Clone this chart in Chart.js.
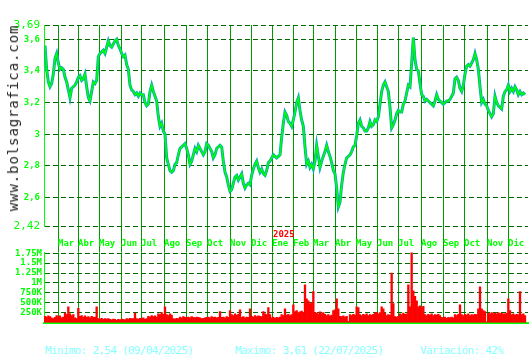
<!DOCTYPE html>
<html><head><meta charset="utf-8">
<script src="https://cdn.jsdelivr.net/npm/chart.js@4"></script>
<style>
html,body{margin:0;padding:0;background:#fff;width:530px;height:360px;overflow:hidden}
#wrap{position:relative;width:530px;height:360px}
#c1{position:absolute;left:0;top:0}
#c2{position:absolute;left:0;top:245px}
.brand{position:absolute;left:13px;top:118px;transform:translate(-50%,-50%) rotate(-90deg);white-space:nowrap;font-family:'DejaVu Sans Mono',monospace;font-size:14px;letter-spacing:0.9px;color:#222;line-height:14px}
.yr{position:absolute;left:273px;top:230px;font-family:'DejaVu Sans Mono',monospace;font-size:9px;font-weight:bold;line-height:9px;color:#ff0000}
.stat{position:absolute;top:345px;font-family:'DejaVu Sans Mono',monospace;font-size:11px;letter-spacing:-0.7px;line-height:12px;color:#88ffff;white-space:nowrap}
</style></head>
<body><div id="wrap">
<canvas id="c1" width="530" height="252"></canvas>
<canvas id="c2" width="530" height="85"></canvas>
<div class="brand">www.bolsagrafica.com</div>
<div class="yr">2025</div>
<div class="stat" style="left:45px">Minimo: 2,54 (09/04/2025)</div>
<div class="stat" style="left:235px">Maximo: 3,61 (22/07/2025)</div>
<div class="stat" style="left:420px">Variación: 42%</div>
</div>
<script>
// closing prices, one sample every 5/3 trading days (Feb 2024 -> Dec 2025)
const closes = [
3.56,3.41,3.33,3.30,3.32,3.38,3.48,3.51,3.45,3.41,
3.42,3.41,3.36,3.33,3.28,3.23,3.29,3.30,3.31,3.33,
3.36,3.37,3.34,3.35,3.38,3.30,3.23,3.21,3.27,3.33,
3.32,3.34,3.49,3.51,3.52,3.53,3.51,3.55,3.59,3.56,
3.55,3.57,3.59,3.60,3.56,3.54,3.51,3.49,3.50,3.44,
3.41,3.31,3.28,3.27,3.25,3.26,3.24,3.26,3.25,3.25,
3.20,3.18,3.19,3.27,3.31,3.27,3.24,3.21,3.11,3.05,
3.07,3.02,3.00,2.85,2.81,2.77,2.76,2.77,2.81,2.82,
2.87,2.91,2.92,2.93,2.94,2.91,2.87,2.81,2.83,2.87,
2.91,2.89,2.93,2.91,2.89,2.87,2.89,
2.94,2.93,2.91,2.89,2.85,2.87,2.91,2.92,2.93,2.92,
2.83,2.76,2.73,2.68,2.64,2.65,2.69,2.73,2.74,2.71,
2.73,2.75,2.69,2.66,2.68,2.69,2.68,2.74,2.78,2.81,
2.83,2.79,2.76,2.78,2.75,2.74,2.77,2.82,2.83,2.85,
2.87,2.86,2.85,2.86,2.87,2.98,3.07,3.14,3.12,3.08,
3.07,3.05,3.09,3.14,3.20,3.23,3.15,3.09,3.05,2.92,
2.81,2.83,2.79,2.81,2.78,2.83,2.93,2.86,2.79,2.83,
2.86,2.89,2.93,2.89,2.86,2.82,2.77,2.75,2.66,2.54,
2.57,2.68,2.76,2.81,2.85,2.86,2.87,2.89,2.92,2.93,
2.99,3.07,3.09,3.05,3.04,3.02,
3.02,3.04,3.08,3.05,3.06,3.09,3.08,3.11,3.19,3.27,
3.31,3.33,3.30,3.27,3.17,3.04,3.06,3.09,3.13,3.15,
3.14,3.14,3.19,3.21,3.26,3.31,3.30,3.45,3.61,3.47,
3.41,3.40,3.32,3.25,3.24,3.21,3.22,3.21,3.20,3.19,
3.18,3.21,3.25,3.22,3.21,3.20,3.19,3.20,3.21,3.21,
3.22,3.24,3.26,3.35,3.36,3.34,3.29,3.27,3.31,3.38,
3.43,3.44,3.43,3.45,3.47,3.51,3.47,3.41,3.30,3.20,
3.22,3.19,3.18,3.15,3.13,3.11,3.13,3.24,3.20,3.18,
3.17,3.16,3.24,3.27,3.28,3.31,3.27,3.29,3.27,3.30,
3.28,3.25,3.27,3.25,3.26,3.25
];
// volume in millions, same sampling
const volumes = [
0.16,0.14,0.17,0.15,0.12,0.10,0.13,0.18,0.15,0.17,
0.12,0.14,0.24,0.20,0.40,0.22,0.18,0.20,0.12,0.10,
0.36,0.16,0.18,0.14,0.17,0.13,0.15,0.12,0.16,0.14,
0.13,0.40,0.10,0.09,0.11,0.08,0.10,0.09,0.10,0.08,
0.07,0.09,0.08,0.06,0.08,0.07,0.09,0.08,0.07,0.10,
0.09,0.11,0.10,0.10,0.24,0.10,0.09,0.11,0.10,0.12,
0.09,0.10,0.16,0.14,0.18,0.15,0.17,0.14,0.22,0.20,
0.25,0.21,0.40,0.20,0.18,0.22,0.19,0.10,0.09,0.11,
0.10,0.14,0.12,0.15,0.13,0.13,0.14,0.12,0.15,0.13,
0.12,0.14,0.13,0.12,0.10,0.11,0.12,0.13,0.14,0.12,
0.15,0.13,0.14,0.12,0.13,0.28,0.13,0.14,0.12,0.15,
0.13,0.30,0.20,0.18,0.22,0.19,0.21,0.32,0.13,0.15,
0.12,0.14,0.13,0.35,0.16,0.14,0.18,0.15,0.17,0.16,
0.15,0.28,0.22,0.20,0.38,0.20,0.12,0.14,0.11,0.13,
0.12,0.14,0.20,0.18,0.35,0.19,0.21,0.18,0.20,0.45,
0.28,0.30,0.25,0.27,0.29,0.26,0.95,0.60,0.55,0.48,
0.50,0.78,0.26,0.24,0.22,0.27,0.23,0.25,0.21,0.18,
0.20,0.17,0.19,0.30,0.32,0.60,0.35,0.16,0.15,0.17,
0.14,0.16,0.03,0.20,0.18,0.21,0.19,0.40,0.38,0.20,
0.18,0.21,0.19,0.22,0.18,0.20,0.19,0.21,0.24,0.26,
0.22,0.25,0.40,0.35,0.24,0.18,0.20,0.19,1.25,0.48,
0.15,0.14,0.16,0.22,0.20,0.24,0.21,0.22,0.95,0.40,
1.77,0.80,0.66,0.55,0.40,0.42,0.38,0.41,0.20,0.18,
0.21,0.19,0.22,0.18,0.20,0.19,0.21,0.18,0.13,0.12,
0.14,0.11,0.13,0.12,0.14,0.12,0.20,0.18,0.21,0.45,
0.20,0.18,0.21,0.19,0.22,0.18,0.20,0.19,0.21,0.20,
0.35,0.90,0.35,0.30,0.28,0.02,0.24,0.22,0.25,0.23,
0.24,0.22,0.25,0.23,0.24,0.22,0.22,0.24,0.60,0.30,
0.20,0.22,0.19,0.21,0.20,0.78,0.20,0.22,0.18
];
const STEP = 5/3; // trading days per sample
// month starts, in trading days from first sample
const monthPos = [13,33,54,76,96,119,141,162,185,206,227,248,268,290,311,332,353,376,398,419,442,463];
const monthLabels = ['Mar','Abr','May','Jun','Jul','Ago','Sep','Oct','Nov','Dic','Ene','Feb','Mar','Abr','May','Jun','Jul','Ago','Sep','Oct','Nov','Dic'];
const priceTicks = [2.42,2.6,2.8,3,3.2,3.4,3.6,3.69];
const priceTickLabels = ['2,42','2,6','2,8','3','3,2','3,4','3,6','3,69'];
const volTicks = [0.25,0.5,0.75,1,1.25,1.5,1.75];
const volTickLabels = ['250K','500K','750K','1M','1.25M','1.5M','1.75M'];

const pricePts = closes.map((v,i)=>({x:i*STEP,y:v}));
const volPts = volumes.map((v,i)=>({x:i*STEP,y:v}));

const MONO = "'DejaVu Sans Mono', monospace";
const LIME = '#00ff00';
const VGRID = '#009a00';
const HGRID = '#006a00';

new Chart(document.getElementById('c1'), {
  type: 'line',
  data: { datasets: [
    { data: pricePts, borderColor: LIME, borderWidth: 1.5, pointRadius: 0, tension: 0, order: 0 },
    { data: pricePts, borderColor: '#00a8b8', borderWidth: 3, pointRadius: 0, tension: 0, order: 1 }
  ]},
  options: {
    responsive: false, animation: false,
    layout: { padding: { top: 25, right: 2, left: 0, bottom: 0 } },
    plugins: { legend: { display: false }, tooltip: { enabled: false } },
    scales: {
      x: {
        type: 'linear', min: -1, max: 483, offset: false,
        afterBuildTicks: s => { s.ticks = monthPos.map(v => ({ value: v })); },
        afterFit: s => { s.height = 26; },
        grid: { color: VGRID, lineWidth: 1, drawTicks: true, tickLength: 26, tickColor: VGRID, offset: false },
        border: { display: false },
        ticks: { align: 'start', padding: -14, autoSkip: false, maxRotation: 0, color: LIME,
          font: { family: MONO, size: 9, weight: 'bold' },
          callback: (v, i) => monthLabels[i] }
      },
      y: {
        min: 2.42, max: 3.69,
        afterBuildTicks: s => { s.ticks = priceTicks.map(v => ({ value: v })); },
        afterFit: s => { s.width = 44; },
        grid: { color: HGRID, lineWidth: 1, drawTicks: false },
        border: { display: true, color: LIME, width: 1, dash: [5, 3] },
        ticks: { padding: 4, color: LIME, autoSkip: false,
          font: ctx => {
            const t = ctx.tick ? ctx.tick.value : null;
            return (t === 3.69 || t === 2.42) ? { family: MONO, size: 11 } : { family: MONO, size: 9, weight: 'bold' };
          },
          callback: (v, i) => priceTickLabels[i] }
      }
    }
  }
});

new Chart(document.getElementById('c2'), {
  type: 'bar',
  data: { datasets: [
    { data: volPts, backgroundColor: '#ff0000', borderWidth: 0, barPercentage: 1, categoryPercentage: 1 }
  ]},
  options: {
    responsive: false, animation: false,
    layout: { padding: { top: 5.7, right: 2, left: 0, bottom: 5 } },
    plugins: { legend: { display: false }, tooltip: { enabled: false } },
    scales: {
      x: {
        type: 'linear', min: -1, max: 483, offset: false,
        afterBuildTicks: s => { s.ticks = monthPos.map(v => ({ value: v })); },
        afterFit: s => { s.height = 0; },
        grid: { color: VGRID, lineWidth: 1, drawTicks: false, offset: false },
        border: { display: true, color: LIME, width: 2 },
        ticks: { display: false }
      },
      y: {
        min: 0, max: 1.77,
        afterBuildTicks: s => { s.ticks = volTicks.map(v => ({ value: v })); },
        afterFit: s => { s.width = 44; },
        grid: { color: HGRID, lineWidth: 1, drawTicks: false },
        border: { display: true, color: LIME, width: 1, dash: [5, 3] },
        ticks: { padding: 2, color: LIME, autoSkip: false, font: { family: MONO, size: 9, weight: 'bold' },
          callback: (v, i) => volTickLabels[i] }
      }
    }
  }
});
</script>
</body></html>
